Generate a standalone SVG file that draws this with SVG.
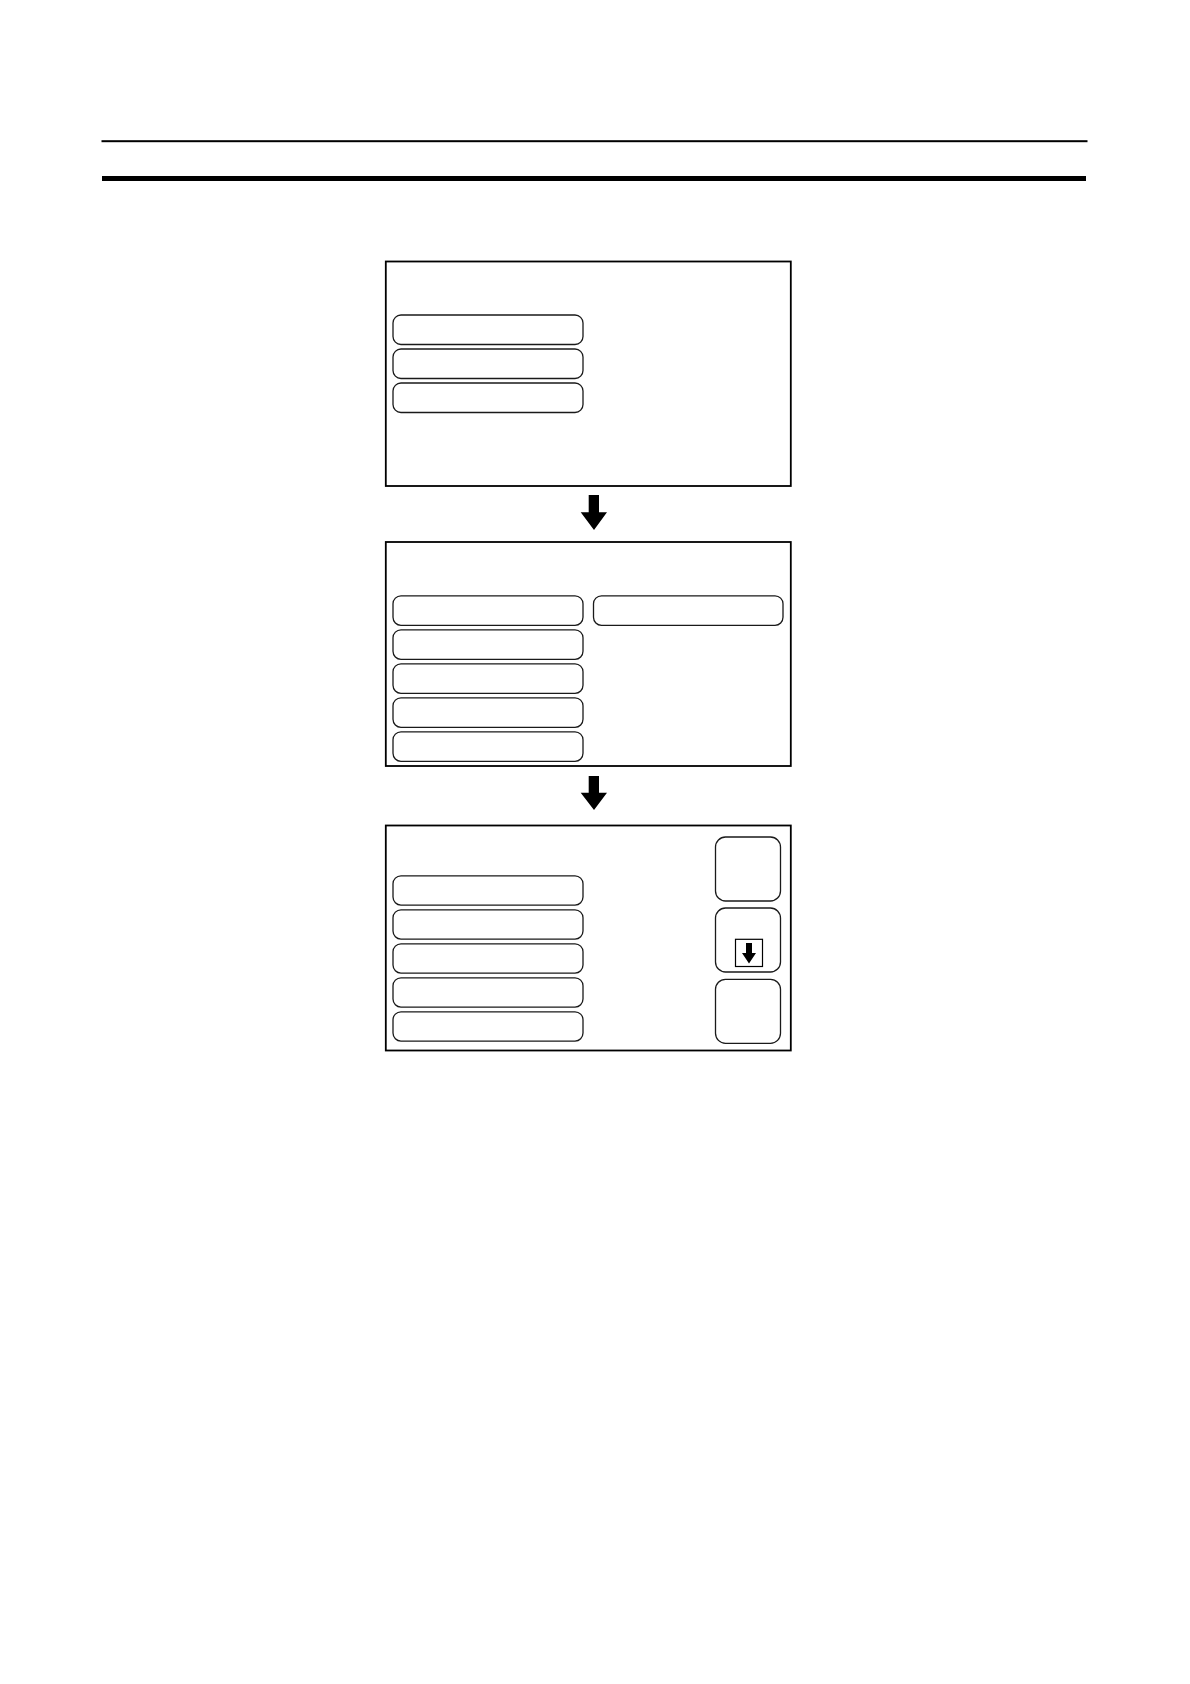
<svg xmlns="http://www.w3.org/2000/svg" width="1190" height="1684" viewBox="0 0 1190 1684">
<style>
.screen{fill:#fff;stroke:#000;stroke-width:1.8}
.btn{fill:#fff;stroke:#1a1a1a;stroke-width:1.3}
.arrow{fill:#000;stroke:none}
</style>
<rect width="1190" height="1684" fill="#fff"/>
<g id="header">
<rect x="101.5" y="140.2" width="986" height="2" fill="#000"/>
<rect x="102" y="176" width="984" height="5" fill="#000"/>
</g>
<g id="screen1">
<rect class="screen" x="385.8" y="261.5" width="405" height="224.5"/>
<rect class="btn" x="393" y="315" width="190" height="29.5" rx="8"/>
<rect class="btn" x="393" y="349" width="190" height="29.5" rx="8"/>
<rect class="btn" x="393" y="383" width="190" height="29.5" rx="8"/>
</g>
<g id="screen2">
<rect class="screen" x="385.8" y="542" width="405" height="224"/>
<rect class="btn" x="393" y="595.8" width="190" height="29.5" rx="8"/>
<rect class="btn" x="393" y="629.8" width="190" height="29.5" rx="8"/>
<rect class="btn" x="393" y="663.8" width="190" height="29.5" rx="8"/>
<rect class="btn" x="393" y="697.8" width="190" height="29.5" rx="8"/>
<rect class="btn" x="393" y="731.8" width="190" height="29.5" rx="8"/>
<rect class="btn" x="593.5" y="595.8" width="189.5" height="29.5" rx="8"/>
</g>
<g id="screen3">
<rect class="screen" x="385.8" y="825.5" width="405" height="225"/>
<rect class="btn" x="393" y="875.8" width="190" height="29.3" rx="8"/>
<rect class="btn" x="393" y="909.8" width="190" height="29.3" rx="8"/>
<rect class="btn" x="393" y="943.8" width="190" height="29.3" rx="8"/>
<rect class="btn" x="393" y="977.8" width="190" height="29.3" rx="8"/>
<rect class="btn" x="393" y="1011.8" width="190" height="29.3" rx="8"/>
<rect class="btn" x="715.5" y="837" width="65" height="64" rx="10"/>
<rect class="btn" x="715.5" y="908" width="65" height="64" rx="10"/>
<rect class="btn" x="715.5" y="979.3" width="65" height="64" rx="10"/>
<g id="scroll-down-icon">
<rect x="735.5" y="939.3" width="27" height="27.2" fill="#fff" stroke="#000" stroke-width="1.2"/>
<polygon class="arrow" points="746,943 752,943 752,953 756,953 749,963.5 742,953 746,953"/>
</g>
</g>
<g id="connectors">
<polygon class="arrow" points="588.7,495 599,495 599,512.3 607,512.3 594,530 580.7,512.3 588.7,512.3"/>
<polygon class="arrow" points="588.7,776 599,776 599,792.7 607,792.7 594,810 580.7,792.7 588.7,792.7"/>
</g>
</svg>
